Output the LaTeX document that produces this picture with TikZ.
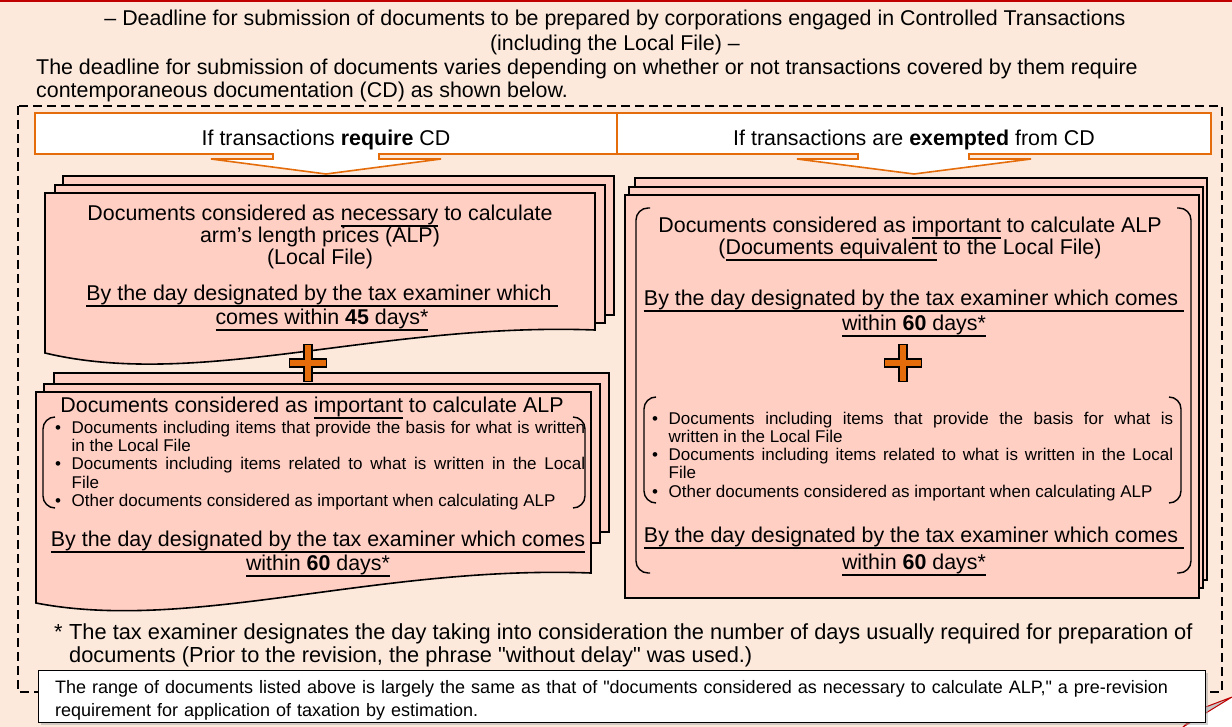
\documentclass[tikz,border=0pt]{standalone}
\usepackage{fontspec}
\setmainfont{Liberation Sans}[Ligatures=TeXOff]
\usetikzlibrary{positioning,shadows}

\definecolor{bgpeach}{RGB}{252,233,220}
\definecolor{pagepink}{RGB}{255,207,196}
\definecolor{cdorange}{RGB}{228,108,10}
\definecolor{edgered}{RGB}{192,0,0}

\newcommand{\bitem}{\par\noindent\hangindent=16.5pt\hangafter=1\makebox[16.5pt][l]{•}}
\newcommand{\ulined}[1]{\setbox0\hbox{#1}\rlap{\rule[-6.2pt]{\wd0}{1.4pt}}\box0\relax}

\tikzset{
  page/.style={draw=black, line width=1.6pt, fill=pagepink},
  headbox/.style={draw=cdorange, line width=1.6pt, fill=white},
  bigtext/.style={inner sep=0pt, align=center, anchor=base, font=\fontsize{21.4}{22}\selectfont},
  duetext/.style={bigtext, font=\fontsize{21.4}{24}\selectfont},
  listtext/.style={inner sep=0pt, anchor=base west, align=justify, font=\fontsize{17}{18.25}\selectfont},
  brace/.style={draw=black, line width=1.4pt, rounded corners=12pt},
  plusfill/.style={draw=black, line width=1.3pt, fill=cdorange},
  plusmark/.pic={
    \draw[plusfill] (-4,-18.5) -- (4,-18.5) -- (4,-4) -- (18.5,-4) -- (18.5,4) -- (4,4)
      -- (4,18.5) -- (-4,18.5) -- (-4,4) -- (-18.5,4) -- (-18.5,-4) -- (-4,-4) -- cycle;
  }
}

\begin{document}
\begin{tikzpicture}[x=1pt, y=-1pt]
   \useasboundingbox (0,0) rectangle (1232,727);
   % background sheet with folded corner
   \fill[bgpeach] (0,0) -- (1232,0) -- (1232,697) -- (1183,727) -- (0,727) -- cycle;
   \fill[white] (1232,697) -- (1232,727) -- (1183,727) -- cycle;
   \filldraw[fill=gray!45, draw=edgered, line width=1pt] (1232,697) -- (1203,708) -- (1183,727) -- cycle;
   \draw[edgered, line width=2.5pt] (0,1.25) -- (1232,1.25);

   % multi-line nodes sit on their last baseline
   \node[bigtext, font=\fontsize{21.4}{25}\selectfont] (topTitle) at (615,50.5)
      {– Deadline for submission of documents to be prepared by corporations engaged in Controlled Transactions\\(including the Local File) –};
   \node[bigtext, anchor=base west, align=left, font=\fontsize{21.4}{23}\selectfont] (topIntro) at (36,97.5)
      {The deadline for submission of documents varies depending on whether or not transactions covered by them require\\contemporaneous documentation (CD) as shown below.};

   \draw[black, line width=1.5pt, dash pattern=on 9pt off 5pt] (18,106) rectangle (1222,692);

   % the two cases
   \draw[headbox] (35,113) -- (617,113) -- (617,154) -- (379,154) -- (379,159) -- (441,159) -- (326,174)
      -- (211,159) -- (273,159) -- (273,154) -- (35,154) -- cycle;
   \draw[headbox] (617,113) -- (1211,113) -- (1211,154) -- (969,154) -- (969,159) -- (1031,159) -- (914,174)
      -- (797,159) -- (858,159) -- (858,154) -- (617,154) -- cycle;
   \node[bigtext] (hdReq) at (326,145.5) {If transactions \textbf{require} CD};
   \node[bigtext] (hdExm) at (914,145.5) {If transactions are \textbf{exempted} from CD};

   % require CD: Local File
   \draw[page] (63,176) rectangle (614,315);
   \draw[page] (55,185) rectangle (605,323);
   \draw[page] (45,193) -- (595,193) -- (595,330) .. controls (380,322) and (200,390) .. (45,353) -- cycle;
   \node[bigtext] (ulTitle) at (320,264.5)
      {Documents considered as \ulined{necessary} to calculate\\arm’s length prices (ALP)\\(Local File)};
   \node[duetext] (ulDue) at (322,324.5)
      {\ulined{By the day designated by the tax examiner which\ }\\\ulined{comes within \textbf{45} days*}};

   % require CD: important documents
   \draw[page] (54,373) rectangle (609,532);
   \draw[page] (44,384) rectangle (600,543);
   \draw[page] (36,392) -- (591,392) -- (591,573) .. controls (376,565) and (191,633) .. (36,603) -- cycle;
   \node[bigtext] (llTitle) at (312,412.5) {Documents considered as \ulined{important} to calculate ALP};
   \draw[brace] (55,417) -- (43,417) -- (43,508) -- (55,508);
   \draw[brace] (573,417) -- (585,417) -- (585,508) -- (573,508);
   \node[listtext, text width=530pt] (llList) at (55,415)
      {\bitem Documents including items that provide the basis for what is written\linebreak in the Local File
       \bitem Documents including items related to what is written in the Local\linebreak File
       \bitem Other documents considered as important when calculating ALP};
   \node[duetext] (llDue) at (318,570.5)
      {\ulined{By the day designated by the tax examiner which comes}\\\ulined{within \textbf{60} days*}};
   \pic at (308,363) {plusmark};

   % exempted from CD
   \draw[page] (635,178) rectangle (1207,580);
   \draw[page] (629,187) rectangle (1203,588);
   \draw[page] (625,195) rectangle (1199,598);
   \draw[brace] (650,208) -- (636,208) -- (636,573) -- (650,573);
   \draw[brace] (1177,208) -- (1191,208) -- (1191,573) -- (1177,573);
   \node[bigtext] (rTitle) at (910,254.5)
      {Documents considered as \ulined{important} to calculate ALP\\(\ulined{Documents equivalent} to the Local File)};
   \node[duetext, font=\fontsize{21.4}{25}\selectfont] (rDue) at (914,330.5)
      {\ulined{By the day designated by the tax examiner which comes\ }\\\ulined{within \textbf{60} days*}};
   \pic at (903,363) {plusmark};
   \draw[brace] (656,397) -- (644,397) -- (644,503) -- (656,503);
   \draw[brace] (1169,397) -- (1181,397) -- (1181,503) -- (1169,503);
   \node[listtext, text width=521pt] (rList) at (652,406)
      {\bitem Documents including items that provide the basis for what is\linebreak written in the Local File
       \bitem Documents including items related to what is written in the Local\linebreak File
       \bitem Other documents considered as important when calculating ALP};
   \node[duetext, font=\fontsize{21.4}{27}\selectfont] (rDue2) at (914,569.5)
      {\ulined{By the day designated by the tax examiner which comes\ }\\\ulined{within \textbf{60} days*}};

   % footnote and remark
   \node[bigtext, anchor=base west, align=left, font=\fontsize{21.8}{23}\selectfont] (fnote) at (54,662.5)
      {\makebox[15pt][l]{*}The tax examiner designates the day taking into consideration the number of days usually required for preparation of\\
       \hspace*{15pt}documents (Prior to the revision, the phrase "without delay" was used.)};
   \node[draw=black, line width=1.2pt, fill=white, drop shadow={shadow xshift=2pt, shadow yshift=-2pt, fill=gray!70},
         anchor=north west, minimum height=52pt, text width=1134pt, inner xsep=16.5pt, inner ysep=0pt,
         align=left, font=\fontsize{18}{23}\selectfont] (noteBox) at (38,670)
      {\rule{0pt}{21pt}The range of documents listed above is largely the same as that of "documents considered as necessary to calculate ALP," a pre-revision\\
       requirement for application of taxation by estimation.};
\end{tikzpicture}
\end{document}
